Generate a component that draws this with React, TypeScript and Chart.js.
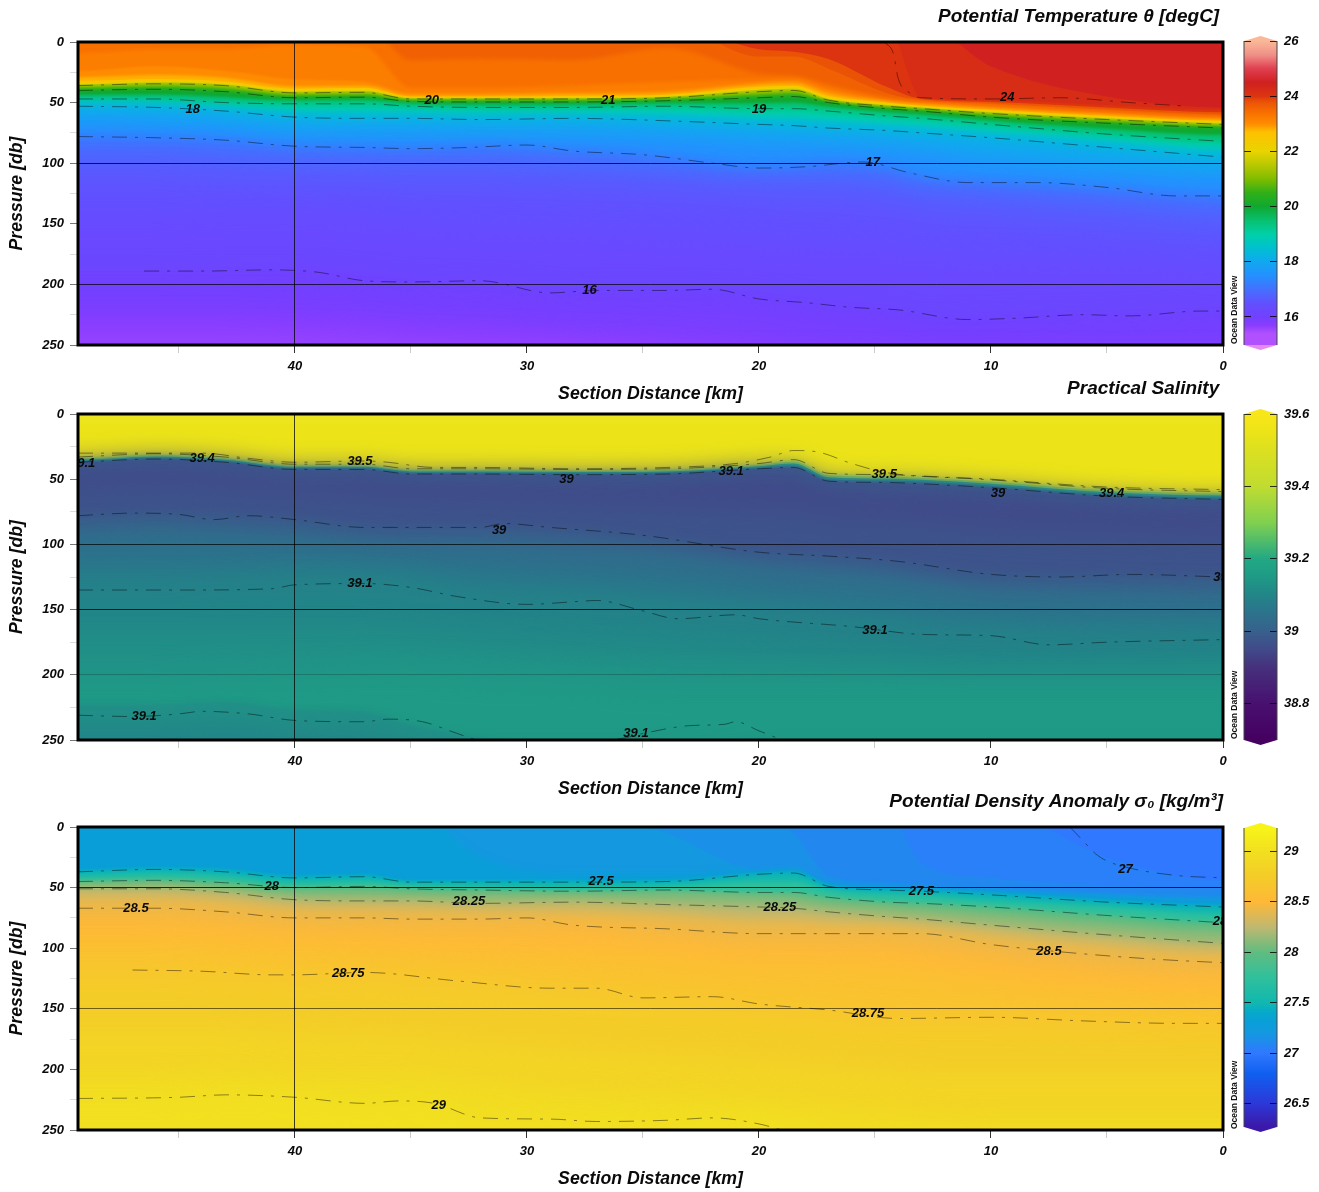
import React, { useEffect, useRef } from "react";
import { Chart, registerables } from "chart.js";

// Softens the edge of each filled band; registered first so it runs before the filler plugin.
Chart.register({
  id: "softFill",
  beforeDatasetDraw(chart: any, args: any) {
    const s = chart.data.datasets[args.index].softness;
    chart.ctx.filter = s ? `blur(${s}px)` : "none";
  },
  afterDatasetDraw(chart: any) {
    chart.ctx.filter = "none";
  },
} as any);
Chart.register(...registerables);

const FONT = "'Liberation Sans', Arial, sans-serif";

// ---- shared station positions (km) for the filled isolines ----
const stations = [49.35, 46, 43, 40, 37, 35, 32, 28, 24, 20, 18.5, 17, 14.5, 13, 10, 5, 0];
const xTicks = [0, 5, 10, 15, 20, 25, 30, 35, 40, 45];
const yTicks = [0, 25, 50, 75, 100, 125, 150, 175, 200, 225, 250];

// ---- Potential temperature: depth (db) of each isotherm at each station ----
const tTop = [0, 0, 0, 0, 0, 0, 0, 0, 0, 0, 0, 0, 0, 0, 0, 0, 0];
const t242 = [0, 0, 0, 0, 0, 0, 0, 0, 0, 0, 0, 0, 0, 0, 20, 45, 54];
const t240 = [0, 0, 0, 0, 0, 0, 0, 0, 0, 0, 0, 0, 0, 46, 48, 52, 56];
const t238 = [0, 0, 0, 0, 0, 0, 0, 0, 0, 6, 8, 14, 37, 47, 49.5, 54, 58];
const t236 = [0, 0, 0, 0, 0, 0, 0, 0, 0, 12, 12, 22, 42, 48, 51, 56, 60];
const t234 = [0, 0, 0, 0, 0, 15, 14, 15, 5, 26, 28, 35, 46, 49, 52, 57, 61];
const t232 = [9, 6, 6, 2, 4, 38, 38, 36, 33, 31, 30, 38, 47, 50, 53, 58, 62];
const t230 = [24, 20, 24, 31, 33, 42, 42, 41, 40, 33, 32, 40, 48, 50.5, 54, 59, 63];
const t228 = [29, 27, 29.5, 36.5, 36, 44, 44, 43, 42, 35, 34, 42.5, 49, 51.5, 55, 60, 64];
const t225 = [32, 30.5, 32.5, 38.5, 38, 45, 45, 44.5, 43.5, 37, 36, 44.5, 50, 52.5, 56, 61, 65];
const t220 = [34, 32.5, 34, 40, 39.5, 46, 46, 45.5, 44.5, 38.5, 37.5, 46, 51, 53.3, 57, 62, 66];
const t215 = [35, 33.5, 35, 41, 40.5, 46.5, 46.5, 46.3, 45.3, 39.5, 38.5, 47, 52, 54, 58, 63, 67];
const t210 = [36, 34.5, 36, 42, 41.5, 47, 47, 47, 46, 41, 40, 48, 53, 55, 59, 64, 68];
const t205 = [38, 37, 38.5, 44, 43.5, 48, 48, 48, 47, 43.5, 42.5, 49, 54, 56, 60.5, 65.5, 69.5];
const t200 = [40, 39, 41, 46, 45.5, 49, 49.5, 49.5, 48.5, 46, 45, 50, 55, 57, 62, 67, 71];
const t195 = [44, 43.5, 45.5, 48.5, 48, 51, 52, 52, 51, 50.5, 50, 53.5, 58, 60, 65, 71.5, 76.5];
const t190 = [47, 47, 50, 51, 51, 53, 54, 54, 53, 55, 55, 57, 61, 63, 68, 76, 82];
const t185 = [50, 51, 54, 57, 57.5, 58, 59, 59, 59, 62, 62.5, 64, 67.5, 69, 74, 81, 88];
const t180 = [53, 54, 57, 62, 63, 63, 64, 63, 65, 68, 69, 71, 73, 75, 79, 87, 95];
const t175 = [65, 66, 69, 74, 75, 75, 76, 76, 78, 82, 83, 84, 87, 90, 97, 104, 109];
const t170 = [78, 79, 81, 86, 87, 88, 86, 90, 96, 104, 103, 100, 104, 112, 116, 121, 127];
const t1675 = [93, 93, 96, 99, 100, 100, 100, 103, 108, 113, 113, 113, 116, 122, 126, 133, 140];
const t165 = [110, 110, 112, 114, 115, 117, 117, 119, 122, 127, 128, 128, 132, 138, 143, 150, 157];
const t1625 = [145, 145, 146, 146, 148, 152, 155, 158, 160, 165, 167, 169, 172, 177, 180, 183, 187];
const t160 = [189, 189, 188, 188, 192, 197, 198, 205, 205, 208, 213, 216, 221, 228, 227, 225, 222];
const t159 = [208, 208, 208, 209, 212, 216, 218, 222, 223, 225, 229, 232, 236, 241, 241, 240, 238];
const t1575 = [224, 224, 224, 226, 228, 231, 233, 237, 240, 245, 250, 252, 255, 258, 258, 258, 258];
const t156 = [240, 240, 240, 241, 243, 245, 247, 250, 255, 260, 260, 260, 260, 260, 260, 260, 260];

const tempStops: [number, string][] = [
  [14.98, "#e888f0"], [15.4, "#b050ff"], [15.7, "#8a3cff"], [16, "#7240ff"], [16.5, "#6250ff"],
  [17, "#4470ff"], [17.5, "#2490ff"], [18, "#10a8f0"], [18.5, "#00c0d0"], [19, "#00d0a8"],
  [19.5, "#08c070"], [20, "#10a830"], [20.5, "#30b018"], [21, "#80bc00"], [21.5, "#b8c800"],
  [22, "#e8d400"], [22.7, "#ffc000"], [23, "#ff8c00"], [23.4, "#f87000"], [23.8, "#ea5206"],
  [24, "#dc3410"], [24.5, "#d02020"], [25, "#e04050"], [25.5, "#f09088"], [26, "#fab898"],
];

// Contours with their own stations
const c16km = [46.5, 44, 41, 39, 37, 35, 32, 29, 27, 24, 22, 20, 18, 16, 14, 11, 9, 6, 4, 1, 0];
const c16db = [189, 189, 188, 190, 197, 198, 197, 207, 205, 205, 204, 212, 215, 219, 221, 229, 228, 225, 226, 222, 222];
const c17km = [49.35, 46, 43, 40, 37, 35, 32.5, 30, 28, 25, 22, 20, 18, 15.5, 13.5, 11, 8, 5, 2, 0];
const c17db = [78, 79, 81, 86, 87, 88, 87, 85, 90, 93, 100, 104, 103, 99, 108, 116, 116, 120, 127, 127];
const c24km = [14.6, 14.2, 14, 13.5, 13, 10, 7, 4, 1.5];
const c24db = [0, 10, 30, 42, 46, 47, 46, 50, 53];

// ---- Practical salinity ----
const sTop = tTop;
const s395 = [31, 29, 31, 37, 37, 40.5, 40.5, 41, 40.5, 36, 33, 44, 45, 46, 49, 55.5, 58];
const s394 = [33, 30.5, 33, 38.5, 38.5, 42, 42, 42.5, 42, 38, 35, 45.5, 46.5, 47.5, 50.5, 57, 59.5];
const s393 = [34, 31.5, 34, 39.5, 39.5, 43, 43, 43.5, 43, 39, 36.5, 47, 48, 49, 52, 58.5, 61];
const s392 = [35, 32.5, 35, 40.5, 40.5, 44, 44, 44.5, 44, 40, 38, 48.5, 49.5, 50.5, 53.5, 60, 62.5];
const s391 = [36, 33.5, 36, 41.5, 41.5, 45, 45, 45.5, 45, 41, 39.5, 50, 51, 52, 55, 61.5, 64];
const s390 = [37, 34.5, 37, 42.5, 42.5, 46, 46, 46.5, 46, 42, 41, 51.5, 52.5, 53.5, 56.5, 63, 65.5];
const s3895 = [38, 35.5, 38, 43.5, 43.5, 47, 47, 47.5, 47, 43, 42.5, 53, 54, 55, 58, 64.5, 67];
const s3897 = [56, 54, 56, 60, 62, 65, 66, 68, 70, 72, 72, 78, 80, 82, 86, 90, 92];
const s3900 = [78, 76, 78, 81, 86, 87, 87, 90, 96, 106, 107, 109, 113, 117, 123, 124, 125];
const s3903 = [88, 86, 88, 91, 96, 97, 97, 100, 105, 115, 117, 119, 123, 127, 133, 134, 135];
const s3905 = [100, 98, 100, 102, 106, 108, 110, 114, 118, 125, 128, 128, 132, 135, 142, 145, 147];
const s3908 = [118, 118, 118, 117, 118, 120, 126, 130, 135, 142, 144, 146, 150, 154, 158, 160, 160];
const s3910 = [134, 134, 133, 131, 131, 134, 143, 145, 152, 158, 160, 163, 167, 170, 172, 175, 174];
const s39125 = [165, 165, 165, 165, 165, 168, 172, 177, 180, 185, 186, 188, 190, 193, 195, 195, 195];
const s3915 = [200, 200, 198, 197, 195, 195, 197, 200, 205, 205, 205, 205, 205, 205, 205, 205, 205];
const s39125b = [222, 222, 220, 226, 228, 238, 248, 260, 260, 250, 258, 260, 260, 260, 260, 260, 260];
const s3910b = [238, 238, 236, 242, 243, 252, 260, 260, 260, 262, 262, 262, 262, 262, 262, 262, 262];

const salStops: [number, string][] = [
  [38.7, "#450060"], [38.8, "#481070"], [38.9, "#46307c"], [38.95, "#414a8a"], [39, "#38608c"],
  [39.05, "#2c738c"], [39.1, "#228588"], [39.15, "#1f9a86"], [39.2, "#22a884"], [39.3, "#80d050"],
  [39.4, "#c0dc30"], [39.5, "#dce020"], [39.55, "#ece418"], [39.6, "#f8e618"],
];

const cs395km = [49.35, 46, 44, 42, 40, 37, 36, 34, 32, 28, 24, 21, 19.5, 18.5, 17.5, 16, 14.5, 10, 5, 0];
const cs395db = [30, 30, 30, 34, 37, 36, 37, 41, 41, 42, 41, 38, 33, 28, 29, 38, 45, 50, 56, 58];
const cs39km = [49.35, 47, 45, 43.5, 42, 40, 37, 35, 32, 31, 29, 25, 20, 17, 14, 10, 7, 4, 0];
const cs39db = [78, 76, 77, 81, 78, 81, 87, 87, 87, 84, 87, 93, 106, 109, 113, 123, 125, 123, 125];
const cs391km = [49.35, 45, 41, 40, 37, 35, 33, 30, 28, 27, 25, 23.5, 21, 20, 16, 13, 10, 7.5, 5, 0];
const cs391db = [135, 135, 134, 131, 130, 133, 140, 146, 144, 143, 151, 157, 154, 157, 163, 169, 170, 177, 175, 173];
const cs391bkm = [49.35, 47, 45, 44, 42, 40, 37, 36, 34.5, 33, 32, 28, 26, 25, 23, 21.5, 21, 20, 19];
const cs391bdb = [231, 232, 230, 228, 230, 235, 236, 234, 236, 245, 250, 250, 249, 245, 239, 238, 236, 243, 250];

// ---- Potential density anomaly ----
const dTop = tTop;
const d2705 = [0, 0, 0, 0, 0, 0, 0, 0, 0, 0, 0, 0, 0, 0, 0, 25, 44];
const d271 = [0, 0, 0, 0, 0, 0, 0, 0, 0, 0, 0, 0, 0, 30, 42, 48, 50];
const d2715 = [0, 0, 0, 0, 0, 0, 0, 0, 0, 0, 5, 40, 46, 48, 50, 54, 56];
const d272 = [0, 0, 0, 0, 0, 0, 0, 0, 5, 35, 33, 46, 49, 50, 52, 56, 59];
const d273 = [0, 0, 0, 0, 0, 0, 25, 38, 38, 36, 35, 47, 50, 51, 53, 58, 62];
const d274 = [35, 33, 34, 40, 39, 44, 44, 44, 44, 38, 37, 48, 51, 52, 54, 60, 64];
const d275 = [37, 35, 37, 42, 41, 45.5, 45.5, 45.5, 45, 39, 38, 49, 52, 53, 56, 62, 66];
const d2775 = [41, 39, 41, 46, 45, 48, 49, 50, 49, 45, 45, 52, 56, 57, 61, 66, 72];
const d280 = [45, 44, 46, 50, 49, 51, 52, 53, 52, 54, 54, 58, 62, 63, 66, 73, 79];
const d28125 = [48, 47, 50, 54, 54, 55, 56, 56, 56, 58, 59, 63, 66, 68, 72, 80, 86];
const d2825 = [51, 51, 54, 60, 61, 61, 63, 62, 64, 66, 67, 70, 74, 76, 81, 89, 96];
const d28375 = [58, 58, 61, 67, 68, 68, 70, 71, 72, 76, 76, 79, 81, 83, 89, 97, 104];
const d285 = [67, 67, 70, 75, 75, 76, 76, 75, 82, 88, 88, 88, 88, 91, 98, 108, 112];
const d28625 = [92, 92, 94, 97, 98, 100, 102, 103, 106, 112, 112, 112, 114, 117, 124, 132, 136];
const d2875 = [119, 119, 120, 123, 122, 124, 128, 134, 140, 148, 150, 153, 158, 158, 158, 162, 163];
const d2885 = [165, 165, 165, 168, 170, 172, 176, 182, 186, 190, 192, 195, 198, 200, 200, 200, 200];
const d2895 = [205, 205, 203, 205, 205, 205, 212, 220, 222, 225, 228, 232, 235, 238, 240, 240, 240];
const d290 = [224, 224, 222, 223, 228, 226, 240, 242, 243, 240, 248, 255, 260, 260, 260, 260, 260];

const denStops: [number, string][] = [
  [26.27, "#3c18a8"], [26.5, "#2c38d8"], [26.8, "#1060f0"], [27, "#3078ff"], [27.1, "#2288f0"],
  [27.2, "#1498e0"], [27.3, "#0a9ed8"], [27.4, "#06a8cc"], [27.5, "#10b8b0"], [27.75, "#30c09c"],
  [28, "#60bc80"], [28.25, "#c0b870"], [28.5, "#ffb838"], [28.75, "#f4cc28"], [29, "#f2e020"],
  [29.23, "#f8f418"],
];

const cd27km = [6.6, 6, 5.5, 5, 4, 2, 0];
const cd27db = [0, 12, 22, 28, 34, 40, 42];
const cd285km = [49.35, 46, 43, 40, 37, 35, 32, 30, 28, 24, 20, 16, 13, 10, 7, 3, 0];
const cd285db = [67, 67, 70, 75, 75, 76, 76, 75, 81, 84, 88, 88, 88, 97, 103, 109, 112];
const cd2875km = [47, 44, 41, 40, 37, 33, 29, 27, 25, 22, 20, 17, 14, 10, 6, 2, 0];
const cd2875db = [118, 119, 122, 122, 120, 127, 133, 133, 141, 140, 146, 151, 158, 157, 160, 162, 162];
const cd29km = [49.35, 45, 43, 40, 37, 35.5, 34, 32, 29, 27, 24, 22, 20, 19];
const cd29db = [224, 223, 221, 223, 228, 226, 228, 240, 241, 243, 242, 240, 245, 250];

type Lab = [string, number, number];
const tempLabels: Lab[] = [["18", 44.4, 56], ["20", 34.1, 48], ["21", 26.5, 48], ["19", 20, 56], ["17", 15.1, 99], ["24", 9.3, 46], ["16", 27.3, 205]];
const salLabels: Lab[] = [
  ["39.1", 49.15, 38], ["39.4", 44, 34], ["39.5", 37.2, 36], ["39", 28.3, 50], ["39.1", 21.2, 44], ["39.5", 14.6, 46],
  ["39", 9.7, 60.6], ["39.4", 4.8, 60.6], ["39", 31.2, 89], ["39.1", 37.2, 130], ["39.1", 15, 166], ["39.1", -0.13, 125],
  ["39.1", 46.5, 232], ["39.1", 25.3, 245],
];
const denLabels: Lab[] = [
  ["28.5", 46.85, 67], ["28", 41, 49], ["28.25", 32.5, 61], ["27.5", 26.8, 45], ["28.25", 19.1, 66], ["27.5", 13, 53],
  ["27", 4.2, 35], ["28", 0.13, 78], ["28.5", 7.5, 103], ["28.75", 37.7, 120.5], ["28.75", 15.3, 154], ["29", 33.8, 230],
];

function colorAt(stops: [number, string][], v: number): string {
  const rgb = (h: string) => [1, 3, 5].map((i) => parseInt(h.slice(i, i + 2), 16));
  if (v <= stops[0][0]) return stops[0][1];
  for (let i = 1; i < stops.length; i++) {
    if (v <= stops[i][0]) {
      const f = (v - stops[i - 1][0]) / (stops[i][0] - stops[i - 1][0]);
      const a = rgb(stops[i - 1][1]);
      const b = rgb(stops[i][1]);
      return `rgb(${a.map((c, k) => Math.round(c + (b[k] - c) * f)).join(",")})`;
    }
  }
  return stops[stops.length - 1][1];
}

const pts = (xs: number[], ys: number[]) => xs.map((x, i) => ({ x, y: ys[i] }));

// A band's fill runs past the frame on every side, so softening never shows at the frame.
const bandPts = (ys: number[]) => [
  { x: 70, y: ys[0] === 0 ? -15 : ys[0] },
  ...stations.map((x, i) => ({ x, y: ys[i] === 0 ? -15 : ys[i] })),
  { x: -20, y: ys[ys.length - 1] === 0 ? -15 : ys[ys.length - 1] },
];

function softnessOf(levels: [number, number[]][], i: number): number {
  const cur = levels[i][1];
  const next = levels[i + 1] ? levels[i + 1][1] : cur.map((d) => d + 20);
  const gaps = cur.map((d, k) => Math.abs(next[k] - d)).sort((a, b) => a - b);
  const gap = gaps[Math.floor(gaps.length / 2)];
  return Math.max(0.7, Math.min(14, gap * 0.55));
}

interface Panel {
  top: number;
  plotH: number;
  title: string;
  stops: [number, string][];
  levels: [number, number[]][];
  contours: [number[], number[]][];
  labels: Lab[];
  gridY: [number, number][];
  cbMin: number;
  cbMax: number;
  cbTicks: number[];
  cbTop: number;
  cbBottom: number;
}

const panels: Panel[] = [
  {
    top: 0, plotH: 303, title: "Potential Temperature θ [degC]\u2009",
    stops: tempStops,
    levels: [[24.5, tTop], [24.2, t242], [24, t240], [23.8, t238], [23.6, t236], [23.4, t234], [23.2, t232], [23, t230], [22.8, t228], [22.5, t225], [22, t220], [21.5, t215], [21, t210], [20.5, t205], [20, t200], [19.5, t195], [19, t190], [18.5, t185], [18, t180], [17.5, t175], [17, t170], [16.75, t1675], [16.5, t165], [16.25, t1625], [16, t160], [15.9, t159], [15.75, t1575], [15.6, t156]],
    contours: [[c16km, c16db], [c17km, c17db], [c24km, c24db], [stations, t180], [stations, t190], [stations, t200], [stations, t210]],
    labels: tempLabels,
    gridY: [[100, 0.8], [200, 0.7]],
    cbMin: 14.985, cbMax: 26, cbTicks: [16, 18, 20, 22, 24, 26], cbTop: 41, cbBottom: 345,
  },
  {
    top: 372, plotH: 326, title: "Practical Salinity\u2009",
    stops: salStops,
    levels: [[39.55, sTop], [39.5, s395], [39.4, s394], [39.3, s393], [39.2, s392], [39.1, s391], [39, s390], [38.95, s3895], [38.97, s3897], [39, s3900], [39.03, s3903], [39.05, s3905], [39.08, s3908], [39.1, s3910], [39.125, s39125], [39.15, s3915], [39.125, s39125b], [39.1, s3910b]],
    contours: [[cs395km, cs395db], [stations, s394], [stations, s390], [cs39km, cs39db], [cs391km, cs391db], [cs391bkm, cs391bdb]],
    labels: salLabels,
    gridY: [[100, 0.7], [150, 0.8], [200, 0.2]],
    cbMin: 38.7, cbMax: 39.6, cbTicks: [38.8, 39, 39.2, 39.4, 39.6], cbTop: 414, cbBottom: 740,
  },
  {
    top: 785, plotH: 303, title: "Potential Density Anomaly σ₀ [kg/m³]",
    stops: denStops,
    levels: [[27, dTop], [27.05, d2705], [27.1, d271], [27.15, d2715], [27.2, d272], [27.3, d273], [27.4, d274], [27.5, d275], [27.75, d2775], [28, d280], [28.125, d28125], [28.25, d2825], [28.375, d28375], [28.5, d285], [28.625, d28625], [28.75, d2875], [28.85, d2885], [28.95, d2895], [29, d290]],
    contours: [[cd27km, cd27db], [stations, d275], [stations, d280], [stations, d2825], [cd285km, cd285db], [cd2875km, cd2875db], [cd29km, cd29db]],
    labels: denLabels,
    gridY: [[50, 0.8], [150, 0.55]],
    cbMin: 26.27, cbMax: 29.23, cbTicks: [26.5, 27, 27.5, 28, 28.5, 29], cbTop: 828, cbBottom: 1127,
  },
];

const overlay = (p: Panel) => ({
  id: "overlay",
  afterDraw(chart: any) {
    const { ctx, chartArea: a, scales } = chart;
    ctx.save();
    ctx.beginPath();
    ctx.rect(a.left, a.top, a.right - a.left, a.bottom - a.top);
    ctx.clip();
    ctx.fillStyle = "#0a0a0a";
    ctx.font = `italic bold 13px ${FONT}`;
    ctx.textAlign = "center";
    ctx.textBaseline = "middle";
    p.labels.forEach(([t, km, db]) => ctx.fillText(t, scales.x.getPixelForValue(km), scales.y.getPixelForValue(db)));
    ctx.restore();
    ctx.save();
    ctx.strokeStyle = "#000";
    ctx.lineWidth = 3;
    ctx.strokeRect(a.left, a.top, a.right - a.left, a.bottom - a.top);
    ctx.translate(a.right + 12, a.bottom - 1);
    ctx.rotate(-Math.PI / 2);
    ctx.fillStyle = "#111";
    ctx.font = `bold 8.5px ${FONT}`;
    ctx.textAlign = "left";
    ctx.textBaseline = "middle";
    ctx.fillText("Ocean Data View", 0, 0);
    ctx.restore();
  },
});

function SectionChart({ p }: { p: Panel }) {
  const ref = useRef<HTMLCanvasElement>(null);
  useEffect(() => {
    const n = p.levels.length;
    const fills = p.levels.map(([v, depths], i) => ({
      data: bandPts(depths),
      order: 100 + n - i,
      borderWidth: 0,
      pointRadius: 0,
      cubicInterpolationMode: "monotone",
      backgroundColor: colorAt(p.stops, v),
      fill: { value: 320 },
      softness: softnessOf(p.levels, i),
    }));
    const lines = p.contours.map(([xs, ys]) => ({
      data: pts(xs, ys),
      order: 1,
      borderWidth: 0.7,
      borderColor: "rgba(0,0,0,0.62)",
      borderDash: [15, 8, 3, 8],
      pointRadius: 0,
      cubicInterpolationMode: "monotone",
      fill: false,
    }));
    const labelFont = { family: FONT, size: 13, weight: "bold", style: "italic" };
    const titleFont = { family: FONT, size: 17.7, weight: "bold", style: "italic" };
    const chart = new Chart(ref.current!, {
      type: "line",
      data: { datasets: [...fills, ...lines] as any },
      options: {
        animation: false,
        responsive: false,
        layout: { autoPadding: false, padding: { top: 0, left: 0, right: 17, bottom: 0 } },
        plugins: {
          legend: { display: false },
          tooltip: { enabled: false },
          title: {
            display: true,
            text: p.title,
            align: "end",
            color: "#0a0a0a",
            font: { family: FONT, size: 19, weight: "bold", style: "italic", lineHeight: 1.2 },
            padding: { top: 5, bottom: 14.2 },
          },
        },
        scales: {
          x: {
            type: "linear",
            reverse: true,
            min: 0,
            max: 49.35,
            afterBuildTicks: (s: any) => { s.ticks = xTicks.map((value) => ({ value })); },
            afterFit: (s: any) => { s.height = 62; },
            ticks: {
              autoSkip: false,
              maxRotation: 0,
              padding: 6,
              color: "#0a0a0a",
              font: labelFont,
              callback: (v: any) => (v % 10 === 0 ? String(v) : ""),
            },
            border: { display: false },
            grid: {
              z: 1,
              tickLength: 8,
              color: (c: any) => (c.tick && c.tick.value === 40 ? "rgba(0,0,0,0.75)" : "transparent"),
              tickColor: (c: any) => (c.tick && c.tick.value % 10 === 0 ? "#333" : "#ccc"),
            },
            title: { display: true, text: "Section Distance [km]", color: "#0a0a0a", font: titleFont, padding: { top: 0, bottom: 2 } },
          },
          y: {
            type: "linear",
            reverse: true,
            min: 0,
            max: 250,
            afterBuildTicks: (s: any) => { s.ticks = yTicks.map((value) => ({ value })); },
            afterFit: (s: any) => { s.width = 78; },
            ticks: {
              autoSkip: false,
              padding: 6,
              color: "#0a0a0a",
              font: labelFont,
              callback: (v: any) => (v % 50 === 0 ? String(v) : ""),
            },
            border: { display: false },
            grid: {
              z: 1,
              tickLength: 8,
              color: (c: any) => {
                const g = c.tick && p.gridY.find((e) => e[0] === c.tick.value);
                return g ? `rgba(0,0,0,${g[1]})` : "transparent";
              },
              tickColor: (c: any) => (c.tick && c.tick.value % 50 === 0 ? "#777" : "#ddd"),
            },
            title: { display: true, text: "Pressure [db]", color: "#0a0a0a", font: titleFont, padding: { top: 6, bottom: 0 } },
          },
        },
      } as any,
      plugins: [overlay(p)],
    });
    return () => chart.destroy();
  }, [p]);
  const h = 42 + p.plotH + 62;
  return <canvas ref={ref} width={1240} height={h} style={{ position: "absolute", left: 0, top: p.top, width: 1240, height: h, display: "block" }} />;
}

const tips = (p: Panel) => ({
  id: "tips",
  afterDraw(chart: any) {
    const { ctx, chartArea: a } = chart;
    const mid = (a.left + a.right) / 2;
    ctx.save();
    ctx.fillStyle = colorAt(p.stops, p.cbMax);
    ctx.beginPath();
    ctx.moveTo(a.left, a.top);
    ctx.lineTo(mid, a.top - 5);
    ctx.lineTo(a.right, a.top);
    ctx.closePath();
    ctx.fill();
    ctx.fillStyle = colorAt(p.stops, p.cbMin);
    ctx.beginPath();
    ctx.moveTo(a.left, a.bottom);
    ctx.lineTo(mid, a.bottom + 5);
    ctx.lineTo(a.right, a.bottom);
    ctx.closePath();
    ctx.fill();
    ctx.strokeStyle = "#444";
    ctx.lineWidth = 1;
    ctx.beginPath();
    ctx.moveTo(a.left, a.top);
    ctx.lineTo(a.left, a.bottom);
    ctx.moveTo(a.right, a.top);
    ctx.lineTo(a.right, a.bottom);
    ctx.stroke();
    ctx.restore();
  },
});

function ColorBar({ p }: { p: Panel }) {
  const ref = useRef<HTMLCanvasElement>(null);
  useEffect(() => {
    const chart = new Chart(ref.current!, {
      type: "bar",
      data: {
        labels: ["scale"],
        datasets: [
          {
            data: [[p.cbMin, p.cbMax]],
            barPercentage: 1,
            categoryPercentage: 1,
            borderWidth: 0,
            backgroundColor: (c: any) => {
              const { chart: ch } = c;
              if (!ch.chartArea) return p.stops[0][1];
              const y = ch.scales.y;
              const y0 = y.getPixelForValue(p.cbMin);
              const y1 = y.getPixelForValue(p.cbMax);
              const g = ch.ctx.createLinearGradient(0, y0, 0, y1);
              p.stops.forEach(([v, col]) => {
                const f = (v - p.cbMin) / (p.cbMax - p.cbMin);
                if (f >= 0 && f <= 1) g.addColorStop(f, col);
              });
              return g;
            },
          },
        ] as any,
      },
      options: {
        animation: false,
        responsive: false,
        layout: { autoPadding: false, padding: { left: 8, top: 6, bottom: 7, right: 0 } },
        plugins: { legend: { display: false }, tooltip: { enabled: false } },
        scales: {
          x: { display: false },
          y: {
            position: "right",
            min: p.cbMin,
            max: p.cbMax,
            afterBuildTicks: (s: any) => { s.ticks = p.cbTicks.map((value) => ({ value })); },
            afterFit: (s: any) => { s.width = 42; s.paddingTop = 0; s.paddingBottom = 0; },
            ticks: {
              autoSkip: false,
              padding: 7,
              color: "#0a0a0a",
              font: { family: FONT, size: 13, weight: "bold", style: "italic" },
              callback: (v: any) => String(v),
            },
            border: { display: false, dash: [7, 19, 7] },
            grid: { z: 1, drawTicks: false, color: "rgba(0,0,0,0.8)" },
          },
        },
      } as any,
      plugins: [tips(p)],
    });
    return () => chart.destroy();
  }, [p]);
  const h = p.cbBottom - p.cbTop + 13;
  return <canvas ref={ref} width={83} height={h} style={{ position: "absolute", left: 1236, top: p.cbTop - 6, width: 83, height: h, display: "block" }} />;
}

export default function App() {
  return (
    <div>
      {panels.map((p, i) => (
        <React.Fragment key={i}>
          <SectionChart p={p} />
          <ColorBar p={p} />
        </React.Fragment>
      ))}
    </div>
  );
}
